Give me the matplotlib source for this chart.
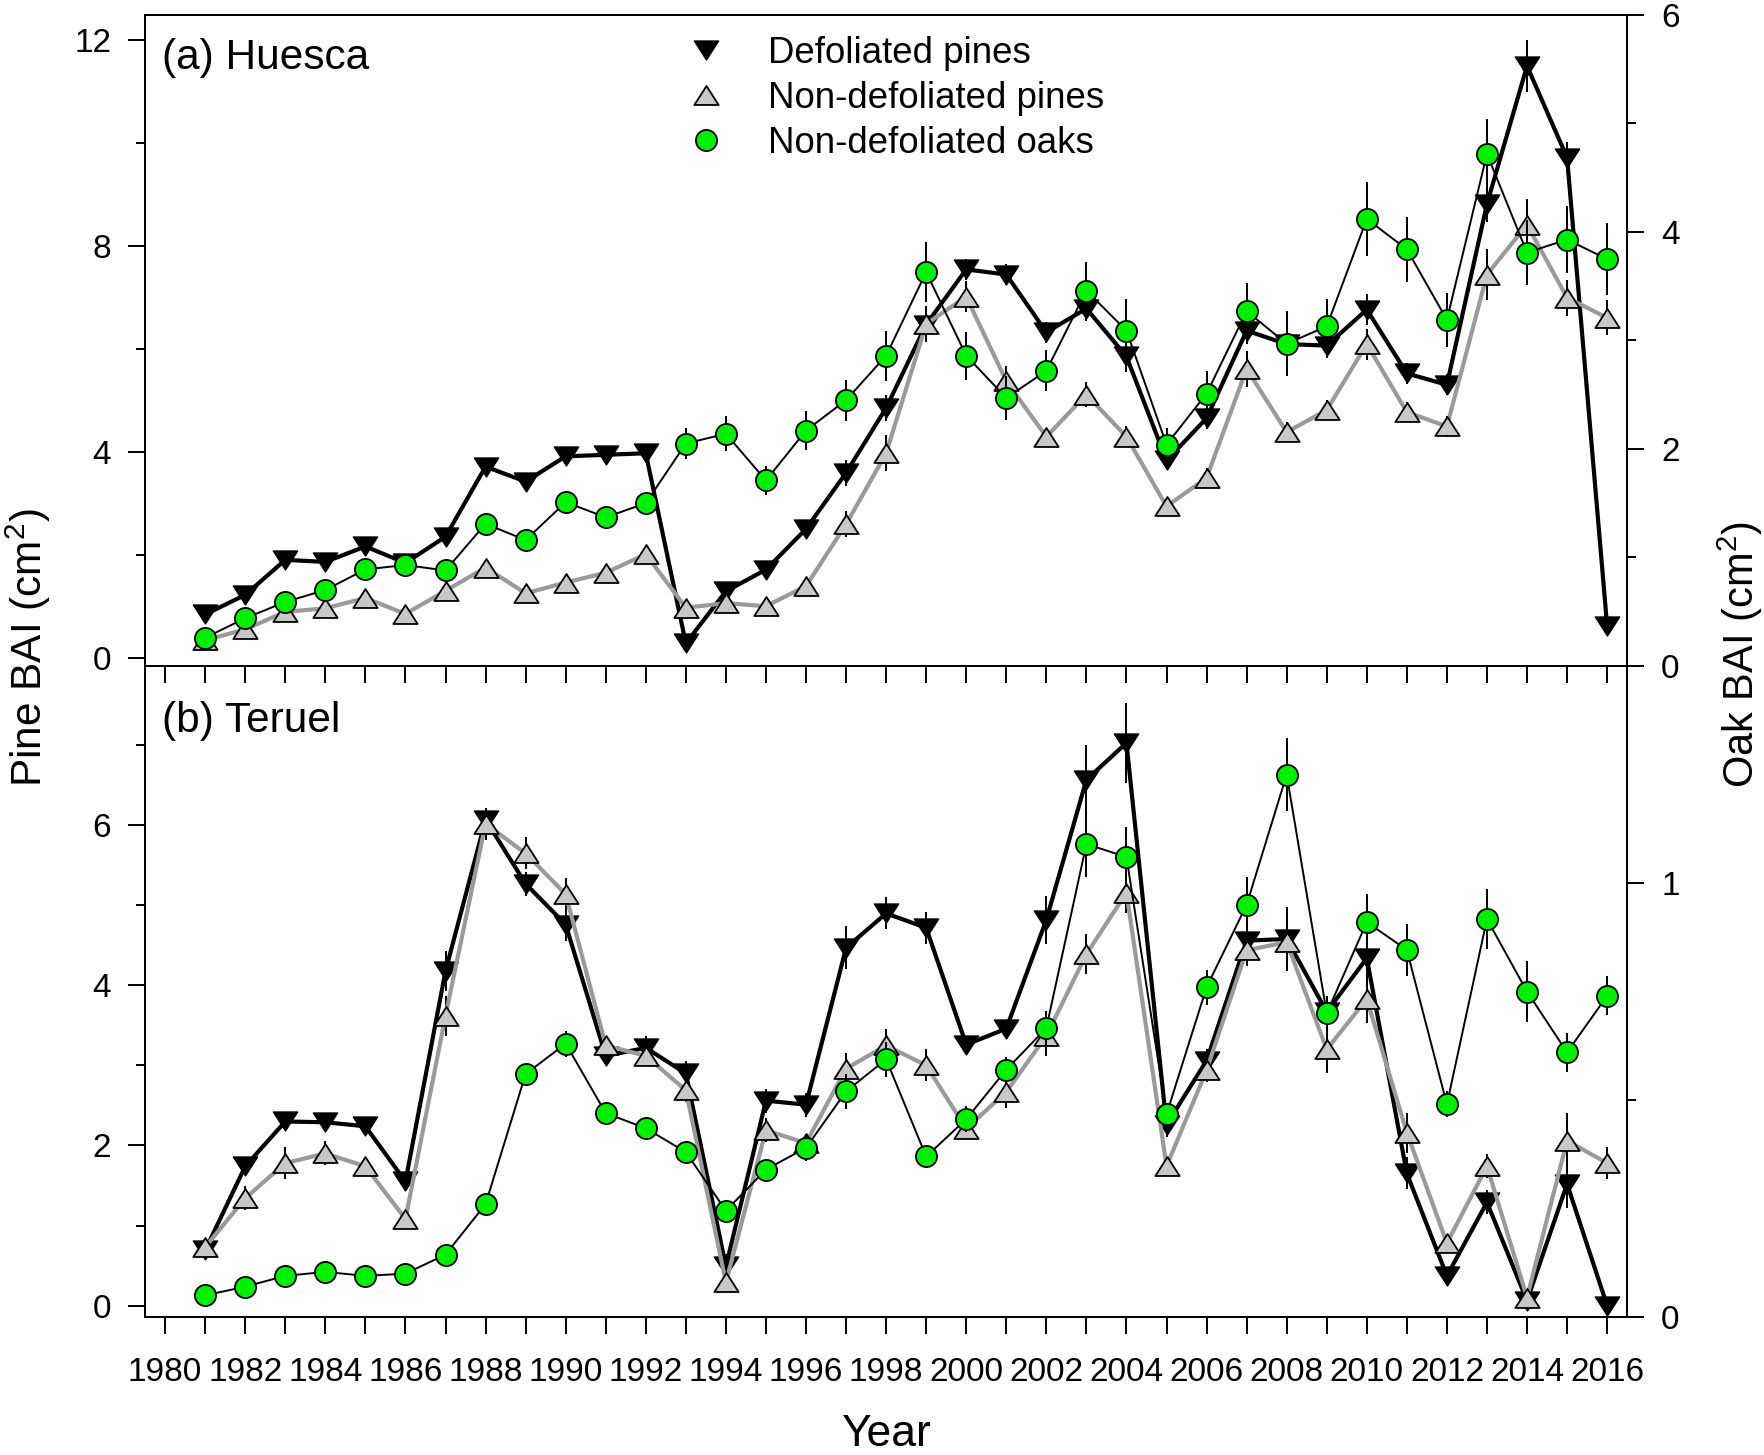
import numpy as np
import matplotlib
matplotlib.use('Agg')
import matplotlib.pyplot as plt
from matplotlib.path import Path
from matplotlib.lines import Line2D

plt.rcParams['font.family'] = ['Liberation Sans', 'DejaVu Sans']
plt.rcParams['mathtext.fontset'] = 'custom'
plt.rcParams['mathtext.rm'] = 'Liberation Sans'
plt.rcParams['mathtext.default'] = 'regular'

# ------------------------------------------------------------
# data
# ------------------------------------------------------------
years = list(range(1981, 2017))

# (a) Huesca - pine BAI (left axis), oak BAI (right axis)
hu_defol = [0.85, 1.23, 1.91, 1.87, 2.17, 1.85, 2.36, 3.72, 3.43, 3.92, 3.95, 3.98,
            0.29, 1.30, 1.72, 2.51, 3.60, 4.86, 6.48, 7.55, 7.45, 6.33, 6.79, 5.86,
            3.84, 4.66, 6.36, 6.10, 6.07, 6.77, 5.53, 5.31, 8.82, 11.50, 9.72, 0.63]
hu_defol_se = [0.08, 0.08, 0.06, 0.06, 0.06, 0.08, 0.10, 0.12, 0.10, 0.10, 0.08, 0.08,
               0.08, 0.10, 0.10, 0.15, 0.25, 0.25, 0.30, 0.20, 0.20, 0.20, 0.25, 0.30,
               0.15, 0.20, 0.25, 0.25, 0.25, 0.30, 0.20, 0.20, 0.35, 0.51, 0.30, 0.05]
hu_nondef = [0.35, 0.56, 0.90, 0.97, 1.17, 0.86, 1.31, 1.76, 1.26, 1.47, 1.66, 2.02,
             0.98, 1.07, 1.01, 1.40, 2.60, 3.98, 6.49, 7.02, 5.38, 4.30, 5.12, 4.30,
             2.95, 3.50, 5.62, 4.39, 4.82, 6.10, 4.78, 4.50, 7.45, 8.42, 7.00, 6.61]
hu_nondef_se = [0.05, 0.08, 0.08, 0.08, 0.08, 0.06, 0.10, 0.10, 0.08, 0.08, 0.10, 0.12,
                0.10, 0.10, 0.08, 0.10, 0.25, 0.35, 0.35, 0.30, 0.30, 0.15, 0.25, 0.20,
                0.15, 0.20, 0.35, 0.20, 0.20, 0.30, 0.20, 0.20, 0.49, 0.50, 0.35, 0.34]
hu_oak = [0.26, 0.44, 0.59, 0.70, 0.89, 0.93, 0.88, 1.31, 1.16, 1.51, 1.37, 1.50,
          2.05, 2.14, 1.71, 2.17, 2.45, 2.86, 3.63, 2.86, 2.47, 2.72, 3.46, 3.09,
          2.04, 2.51, 3.27, 2.97, 3.13, 4.12, 3.84, 3.19, 4.72, 3.81, 3.93, 3.75]
hu_oak_se = [0.04, 0.05, 0.05, 0.05, 0.05, 0.05, 0.05, 0.07, 0.07, 0.08, 0.08, 0.08,
             0.14, 0.16, 0.13, 0.18, 0.19, 0.23, 0.28, 0.22, 0.20, 0.19, 0.26, 0.29,
             0.15, 0.21, 0.26, 0.30, 0.25, 0.34, 0.30, 0.25, 0.32, 0.30, 0.31, 0.33]

# (b) Teruel
te_defol = [0.69, 1.74, 2.30, 2.29, 2.24, 1.55, 4.18, 6.07, 5.27, 4.76, 3.12, 3.22,
            2.90, 0.49, 2.56, 2.51, 4.47, 4.90, 4.72, 3.26, 3.46, 4.82, 6.57, 7.03,
            2.26, 3.06, 4.56, 4.58, 3.67, 4.34, 1.65, 0.37, 1.29, 0.06, 1.52, 0.00]
te_defol_se = [0.10, 0.10, 0.05, 0.05, 0.05, 0.10, 0.25, 0.15, 0.15, 0.20, 0.10, 0.15,
               0.15, 0.15, 0.15, 0.15, 0.27, 0.20, 0.20, 0.10, 0.10, 0.30, 0.43, 0.50,
               0.15, 0.15, 0.25, 0.40, 0.20, 0.30, 0.20, 0.10, 0.15, 0.10, 0.30, 0.05]
te_nondef = [0.73, 1.34, 1.78, 1.90, 1.74, 1.08, 3.62, 6.02, 5.65, 5.14, 3.25, 3.12,
             2.69, 0.29, 2.19, 2.03, 2.96, 3.25, 3.00, 2.21, 2.67, 3.37, 4.39, 5.16,
             1.74, 2.94, 4.44, 4.54, 3.20, 3.83, 2.16, 0.78, 1.74, 0.10, 2.06, 1.78]
te_nondef_se = [0.05, 0.15, 0.20, 0.15, 0.10, 0.10, 0.25, 0.20, 0.20, 0.20, 0.10, 0.10,
                0.15, 0.10, 0.15, 0.10, 0.20, 0.20, 0.20, 0.10, 0.20, 0.25, 0.25, 0.25,
                0.10, 0.15, 0.20, 0.30, 0.30, 0.30, 0.25, 0.10, 0.15, 0.05, 0.35, 0.20]
te_oak = [0.05, 0.07, 0.095, 0.104, 0.095, 0.10, 0.144, 0.26, 0.56, 0.63, 0.47, 0.435,
          0.38, 0.245, 0.34, 0.39, 0.52, 0.594, 0.37, 0.456, 0.57, 0.666, 1.09, 1.06,
          0.467, 0.76, 0.95, 1.25, 0.70, 0.91, 0.846, 0.49, 0.917, 0.75, 0.61, 0.74]
te_oak_se = [0.01, 0.01, 0.01, 0.01, 0.01, 0.01, 0.01, 0.015, 0.02, 0.03, 0.02, 0.02,
             0.02, 0.02, 0.02, 0.03, 0.04, 0.04, 0.02, 0.03, 0.03, 0.04, 0.075, 0.07,
             0.02, 0.04, 0.065, 0.085, 0.04, 0.065, 0.06, 0.03, 0.07, 0.07, 0.045, 0.045]

year_ticks = list(range(1980, 2017))
year_labels = [str(y) if y % 2 == 0 else '' for y in year_ticks]

# ------------------------------------------------------------
# style
# ------------------------------------------------------------
TRI_DOWN = Path([(-1, 0.78), (1, 0.78), (0, -0.78), (-1, 0.78)],
                [Path.MOVETO, Path.LINETO, Path.LINETO, Path.CLOSEPOLY])
TRI_UP = Path([(-1, -0.78), (1, -0.78), (0, 0.78), (-1, -0.78)],
              [Path.MOVETO, Path.LINETO, Path.LINETO, Path.CLOSEPOLY])
GREEN = '#00ee00'
GRAY_FILL = '#c8c8c8'
GRAY_LINE = '#9a9a9a'
TRI_MS = 17.5
CIR_MS = 15.2
TICK_FS = 24
SPINE_W = 1.4


def style_axis(ax):
    for s in ax.spines.values():
        s.set_linewidth(SPINE_W)
    ax.tick_params(axis='y', which='major', direction='out', length=12.5,
                   width=SPINE_W, labelsize=TICK_FS, pad=12)
    ax.tick_params(axis='y', which='minor', direction='out', length=6.5,
                   width=SPINE_W)


def draw_panel(ax, axr, defol, defol_se, nondef, nondef_se, oak, oak_se):
    ax.errorbar(years, defol, yerr=defol_se, fmt='none', ecolor='black',
                elinewidth=1.4, capsize=0, zorder=2)
    ax.plot(years, defol, color='black', lw=3.0, zorder=3)
    ax.plot(years, defol, ls='none', marker=TRI_DOWN, ms=TRI_MS,
            mfc='black', mec='black', mew=1.0, zorder=4)

    ax.errorbar(years, nondef, yerr=nondef_se, fmt='none', ecolor='black',
                elinewidth=1.4, capsize=0, zorder=5)
    ax.plot(years, nondef, color=GRAY_LINE, lw=3.0, zorder=6)
    ax.plot(years, nondef, ls='none', marker=TRI_UP, ms=TRI_MS,
            mfc=GRAY_FILL, mec='black', mew=1.3, zorder=7)

    axr.errorbar(years, oak, yerr=oak_se, fmt='none', ecolor='black',
                 elinewidth=1.4, capsize=0, zorder=2)
    axr.plot(years, oak, color='black', lw=1.4, marker='o', ms=CIR_MS,
             mfc=GREEN, mec='black', mew=1.3, zorder=3)


fig = plt.figure(figsize=(17.65, 14.55), dpi=100)
ax_top = fig.add_axes([0.0822, 0.5423, 0.8397, 0.4474])
ax_bot = fig.add_axes([0.0822, 0.0948, 0.8397, 0.4474])
for a in (ax_top, ax_bot):
    a.set_facecolor('none')
axr_top = ax_top.twinx()
axr_bot = ax_bot.twinx()

draw_panel(ax_top, axr_top, hu_defol, hu_defol_se, hu_nondef, hu_nondef_se,
           hu_oak, hu_oak_se)
draw_panel(ax_bot, axr_bot, te_defol, te_defol_se, te_nondef, te_nondef_se,
           te_oak, te_oak_se)

for a in (ax_top, ax_bot):
    a.set_xlim(1979.5, 2016.5)
    a.set_xticks(year_ticks)
    a.set_xticklabels(year_labels)
    a.tick_params(axis='x', direction='out', length=12.5, width=SPINE_W,
                  labelsize=TICK_FS, pad=16)
ax_top.tick_params(axis='x', labelbottom=False)

ax_top.set_ylim(-0.15, 12.49)
ax_top.set_yticks([0, 4, 8, 12])
ax_top.set_yticks([2, 6, 10], minor=True)
axr_top.set_ylim(0, 6)
axr_top.set_yticks([0, 2, 4, 6])
axr_top.set_yticks([1, 3, 5], minor=True)

ax_bot.set_ylim(-0.144, 7.99)
ax_bot.set_yticks([0, 2, 4, 6])
ax_bot.set_yticks([1, 3, 5, 7], minor=True)
axr_bot.set_ylim(0, 1.5)
axr_bot.set_yticks([0, 1])
axr_bot.set_yticks([0.5], minor=True)

for a in (ax_top, ax_bot, axr_top, axr_bot):
    style_axis(a)

ax_top.text(0.0115, 0.917, '(a) Huesca', transform=ax_top.transAxes,
            fontsize=30.5, va='baseline', ha='left')
ax_bot.text(0.0115, 0.8986, '(b) Teruel', transform=ax_bot.transAxes,
            fontsize=30.5, va='baseline', ha='left')

handles = [
    Line2D([], [], ls='none', marker=TRI_DOWN, ms=TRI_MS, mfc='black', mec='black'),
    Line2D([], [], ls='none', marker=TRI_UP, ms=TRI_MS, mfc=GRAY_FILL, mec='black', mew=1.3),
    Line2D([], [], ls='none', marker='o', ms=CIR_MS, mfc=GREEN, mec='black', mew=1.3),
]
labels = ['Defoliated pines', 'Non-defoliated pines', 'Non-defoliated oaks']
leg = axr_top.legend(handles, labels, loc='upper left', bbox_to_anchor=(0.366, 0.968),
                     frameon=False, fontsize=26.4, handlelength=1.0,
                     handletextpad=1.2, labelspacing=0.27, borderpad=0,
                     borderaxespad=0)

fig.text(886 / 1765, 1 - 1446 / 1455, 'Year', fontsize=32, ha='center', va='baseline')
fig.text(28 / 1765, 1 - 648 / 1455, 'Pine BAI (cm$^{2}$)', fontsize=30.5,
         rotation=90, ha='center', va='center')
fig.text(1740 / 1765, 1 - 655 / 1455, 'Oak BAI (cm$^{2}$)', fontsize=30,
         rotation=90, ha='center', va='center')

fig.savefig('out.png', dpi=100)
